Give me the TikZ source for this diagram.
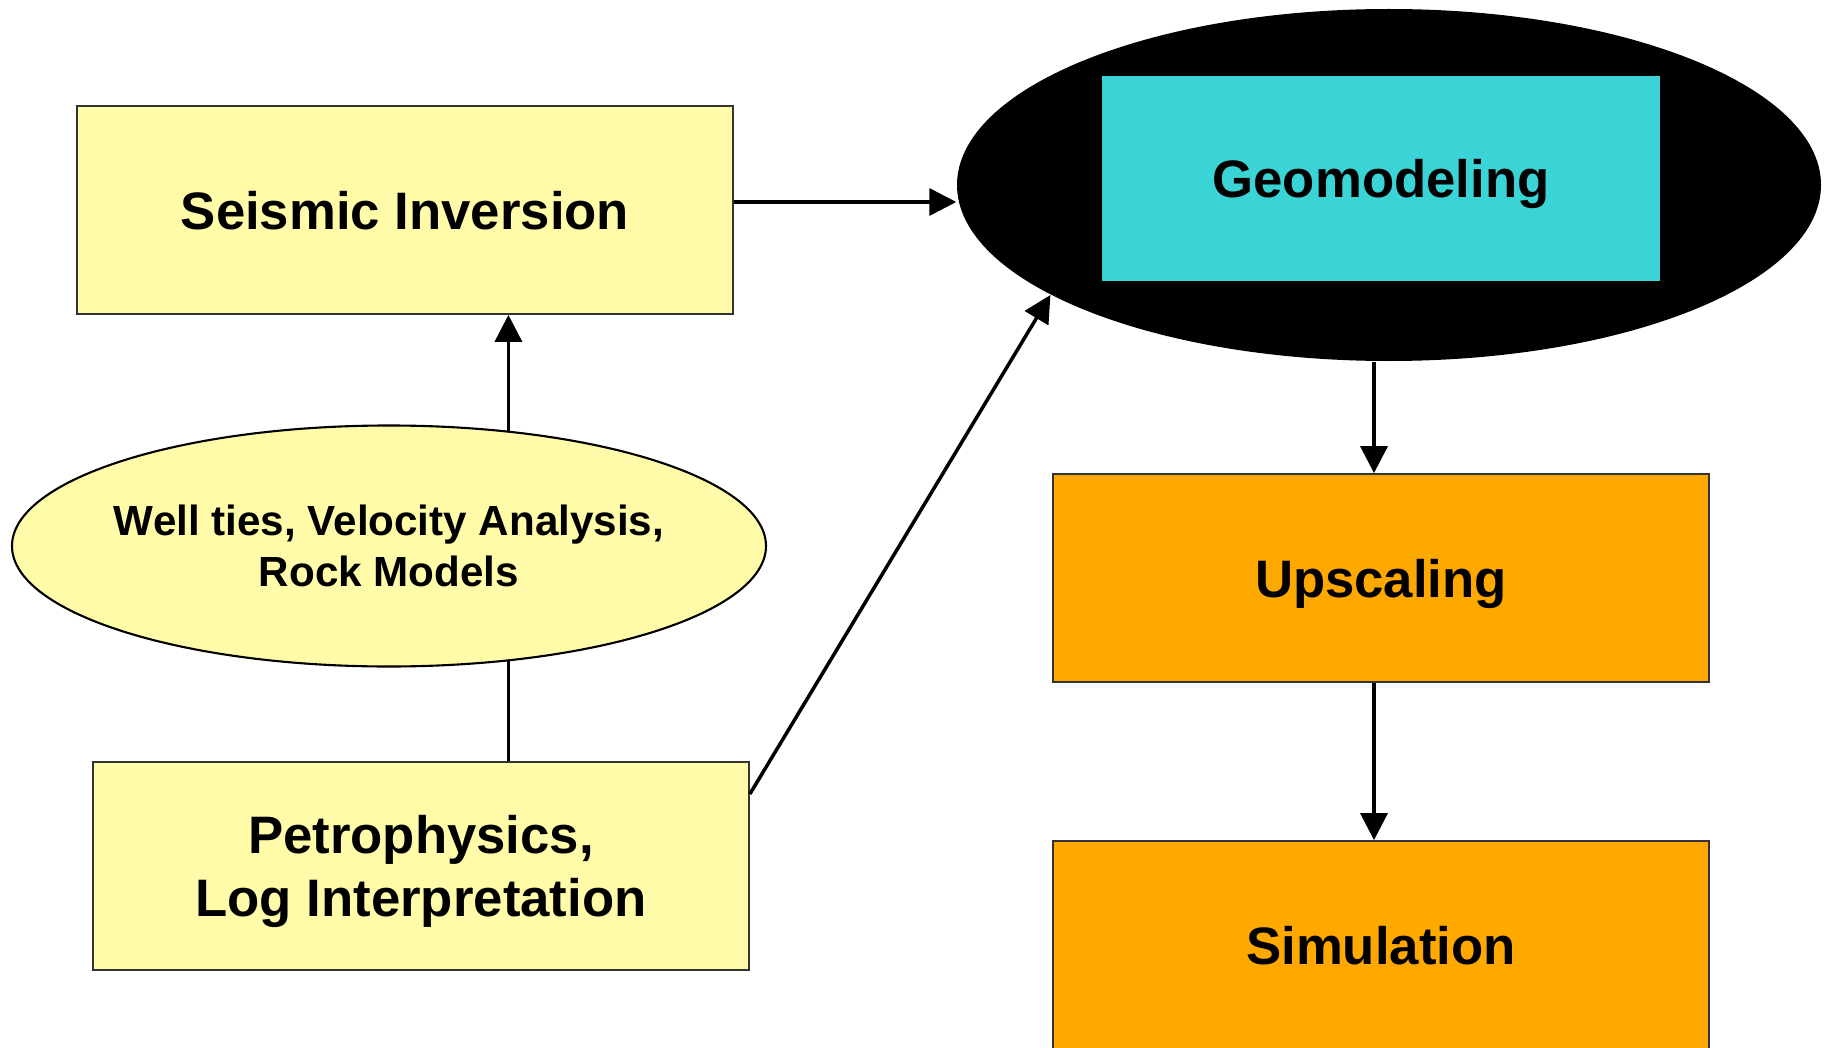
\documentclass[tikz,border=0pt]{standalone}
\usepackage{fontspec}
\setmainfont{Liberation Sans}
\usepackage{tikz}
\usetikzlibrary{arrows.meta,shapes.geometric}
\definecolor{paleyellow}{HTML}{FFFBA8}
\definecolor{geocyan}{HTML}{3AD4D6}
\definecolor{flowamber}{HTML}{FFA800}

\begin{document}
\begin{tikzpicture}[
    box/.style={draw=black!80,line width=0.5pt,minimum width=6.56cm,minimum height=2.08cm,
      align=center,text depth=0pt,font=\fontsize{15}{18}\selectfont\bfseries},
    flow/.style={-{Triangle[length=2.7mm,width=2.7mm]},line width=1pt}]
  \useasboundingbox (0,0) rectangle (18.3,10.47);
  % geomodeling block
  \node[ellipse,fill=black,minimum width=8.64cm,minimum height=3.52cm] (geo) at (13.89,8.62) {};
  \node[box,fill=geocyan,draw=none,minimum width=5.58cm,minimum height=2.05cm] (geobox) at (13.81,8.685) {Geomodeling};
  % left column
  \node[box,fill=paleyellow] (seis) at (4.05,8.37) {Seismic Inversion};
  \node[ellipse,draw,line width=0.6pt,fill=paleyellow,minimum width=7.54cm,minimum height=2.41cm] (wells) at (3.89,5.01) {};
  \node[align=center,font=\fontsize{12}{14.6}\selectfont\bfseries] (wellstext) at (wells) {Well ties, Velocity Analysis,\\Rock Models};
  \node[box,fill=paleyellow] (petro) at (4.21,1.81) {Petrophysics,\\Log Interpretation};
  % right column
  \node[box,fill=flowamber] (ups) at (13.81,4.69) {Upscaling};
  \node[box,fill=flowamber] (sim) at (13.81,1.02) {Simulation};
  % connectors
  \draw[flow] ([yshift=0.8mm]seis.east) -- ([yshift=0.8mm]seis.east -| geo.west);
  \draw[flow] (wells.44.2) -- (wells.44.2 |- seis.south);
  \draw[line width=1pt] (wells.-44.2 |- petro.north) -- (wells.-44.2);
  \draw[flow] ([yshift=7.2mm]petro.east) -- (geo.198.7);
  \draw[flow] ([xshift=-0.7mm]ups.north |- geo.south) -- ([xshift=-0.7mm]ups.north);
  \draw[flow] ([xshift=-0.7mm]ups.south) -- ([xshift=-0.7mm]sim.north);
\end{tikzpicture}
\end{document}
